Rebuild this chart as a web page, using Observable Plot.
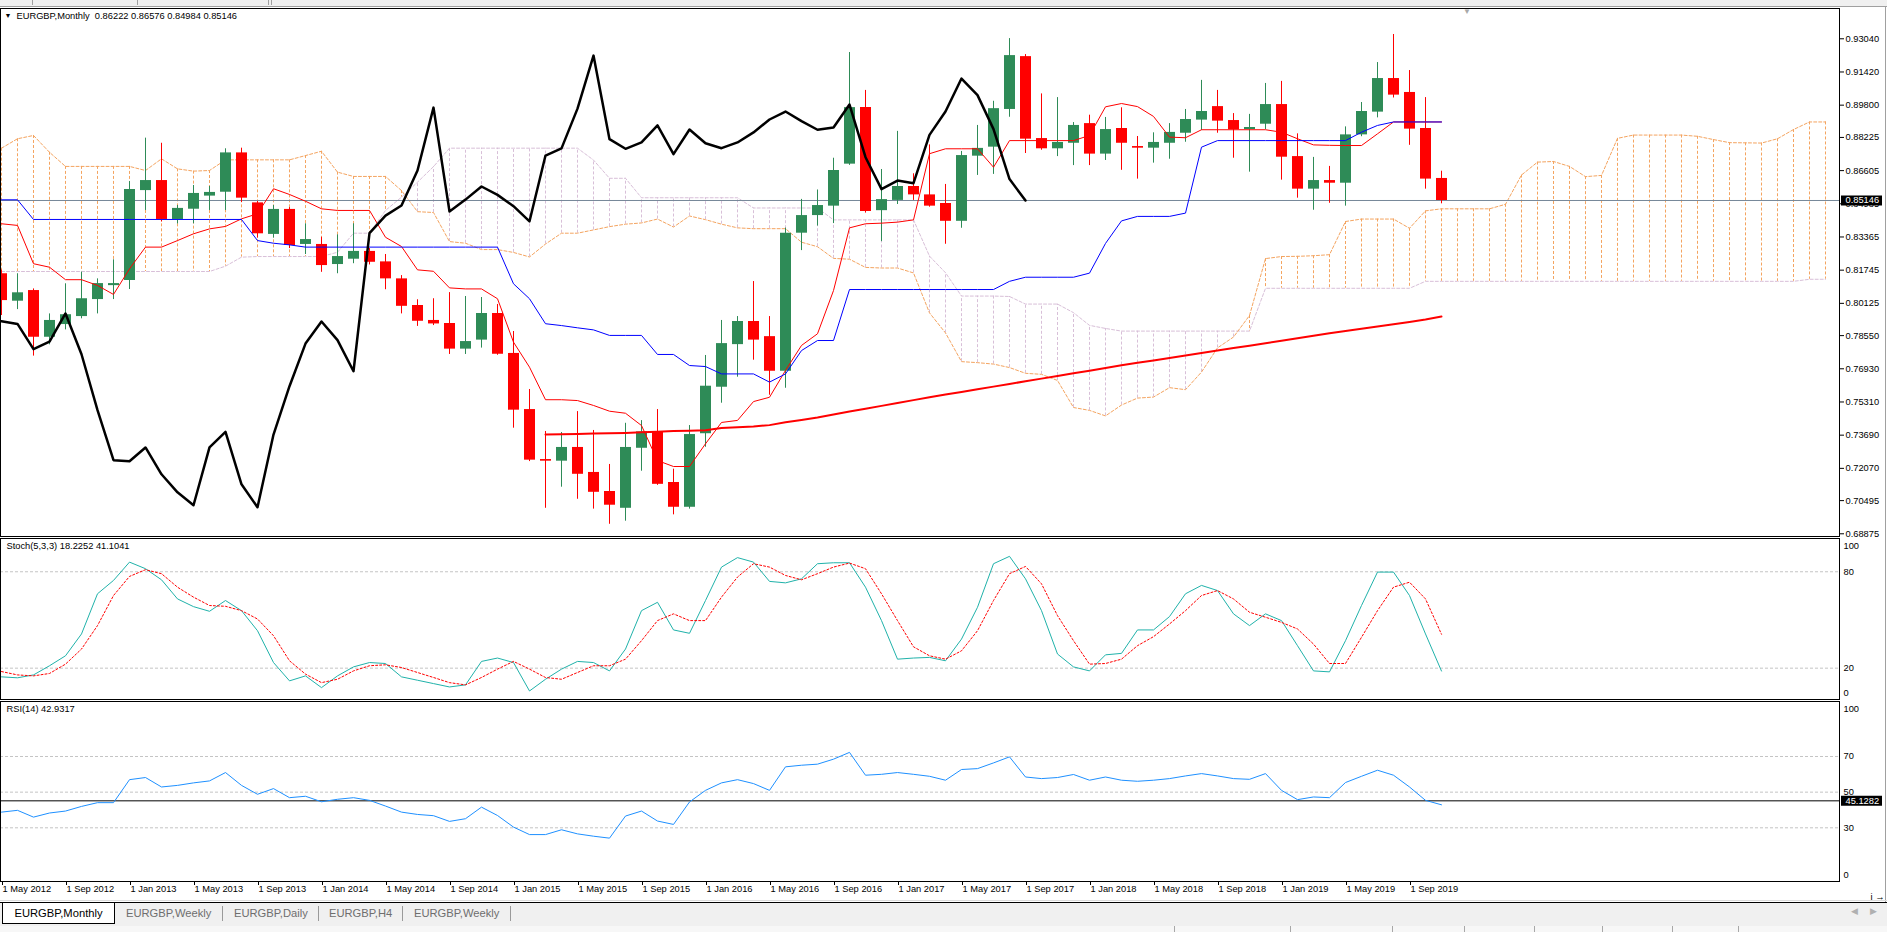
<!DOCTYPE html>
<html><head><meta charset="utf-8">
<script src="https://cdn.jsdelivr.net/npm/d3@7"></script>
<script src="https://cdn.jsdelivr.net/npm/@observablehq/plot@0.6"></script>
<style>
html,body{margin:0;padding:0;background:#fff}
#root{position:relative;width:1887px;height:932px;overflow:hidden;background:#fff;font-family:"Liberation Sans",Arial,sans-serif}
.abs{position:absolute}
.tab{position:absolute;top:903px;height:20px;line-height:20px;font-size:11.2px;color:#6e6e6e;white-space:nowrap}
.sep{position:absolute;top:906px;width:1px;height:15px;background:#9a9a9a}
.sb{position:absolute;top:926px;width:1px;height:6px;background:#a8a8a8}
</style></head>
<body><div id="root"></div>
<script>
// ---------- DATA (EURGBP monthly, May 2012 .. Nov 2019; index 0 = May 2012) ----------
const open = [
0.8157,0.8023,0.8075,0.7847,0.7909,0.7948,0.8031,0.8099,0.8124,0.8563,
0.8612,0.8422,0.8472,0.8536,0.8555,0.8747,0.8503,0.8349,0.8471,0.8300,
0.8300,0.8202,0.8228,0.8266,0.8215,0.8132,0.8002,0.7929,0.7914,0.7789,
0.7833,0.7963,0.7768,0.7494,0.7250,0.7242,0.7309,0.7187,0.7094,0.7012,
0.7305,0.7387,0.7138,0.7017,0.7376,0.7603,0.7811,0.7924,0.7850,0.7681,
0.8355,0.8441,0.8487,0.8692,0.8968,0.8465,0.8515,0.8583,0.8542,0.8500,
0.8413,0.8731,0.8775,0.8959,0.9217,0.8817,0.8767,0.8794,0.8890,0.8741,
0.8866,0.8778,0.8770,0.8794,0.8843,0.8907,0.8973,0.8905,0.8861,0.8887,
0.8983,0.8729,0.8570,0.8612,0.8599,0.8835,0.8946,0.9110,0.9042,0.8866,
0.86222];
const high = [
0.8175,0.8157,0.8083,0.7961,0.8108,0.8165,0.8132,0.8225,0.8607,0.8819,
0.8794,0.8490,0.8588,0.8583,0.8767,0.8770,0.8510,0.8490,0.8480,0.8401,
0.8335,0.8347,0.8401,0.8280,0.8251,0.8148,0.8030,0.8035,0.8065,0.8046,
0.8041,0.8007,0.7875,0.7592,0.7387,0.7382,0.7484,0.7392,0.7226,0.7427,
0.7440,0.7494,0.7203,0.7416,0.7758,0.7929,0.7948,0.8119,0.7948,0.8380,
0.8520,0.8566,0.8721,0.9237,0.9052,0.8666,0.8852,0.8645,0.8786,0.8593,
0.8754,0.8881,0.8999,0.9305,0.9227,0.9035,0.9017,0.8895,0.8931,0.8920,
0.8967,0.8827,0.8845,0.8890,0.8959,0.9101,0.9052,0.8939,0.8935,0.9086,
0.9096,0.8840,0.8725,0.8681,0.8874,0.8993,0.9188,0.9325,0.9149,0.9017,
0.86576];
const low = [
0.7953,0.7982,0.7755,0.7810,0.7883,0.7937,0.7961,0.8031,0.8080,0.8466,
0.8410,0.8400,0.8401,0.8466,0.8466,0.8505,0.8331,0.8331,0.8280,0.8251,
0.8164,0.8157,0.8206,0.8200,0.8079,0.7961,0.7900,0.7904,0.7763,0.7763,
0.7794,0.7759,0.7403,0.7240,0.7012,0.7115,0.7056,0.7008,0.6934,0.6949,
0.7193,0.7124,0.6980,0.7008,0.7310,0.7525,0.7652,0.7735,0.7564,0.7598,
0.8270,0.8390,0.8402,0.8686,0.8453,0.8314,0.8495,0.8515,0.8482,0.8301,
0.8379,0.8637,0.8642,0.8921,0.8744,0.8760,0.8729,0.8685,0.8685,0.8710,
0.8662,0.8619,0.8697,0.8716,0.8799,0.8856,0.8843,0.8721,0.8653,0.8860,
0.8614,0.8526,0.8467,0.8501,0.8487,0.8826,0.8918,0.9015,0.8784,0.8570,
0.84984];
const close = [
0.8026,0.8064,0.7847,0.7929,0.7957,0.8035,0.8109,0.8109,0.8568,0.8612,
0.8422,0.8476,0.8549,0.8554,0.8747,0.8526,0.8352,0.8471,0.8295,0.8324,
0.8197,0.8241,0.8266,0.8213,0.8132,0.7998,0.7925,0.7912,0.7789,0.7826,
0.7963,0.7764,0.7491,0.7247,0.7242,0.7309,0.7178,0.7090,0.7027,0.7309,
0.7385,0.7129,0.7017,0.7372,0.7608,0.7816,0.7924,0.7833,0.7681,0.8355,
0.8441,0.8490,0.8661,0.8968,0.8461,0.8519,0.8583,0.8542,0.8487,0.8413,
0.8734,0.8769,0.8963,0.9222,0.8814,0.8767,0.8798,0.8881,0.8741,0.8861,
0.8794,0.8770,0.8798,0.8847,0.8910,0.8949,0.8902,0.8860,0.8871,0.8983,
0.8726,0.8570,0.8612,0.8599,0.8835,0.8949,0.9110,0.9029,0.8863,0.8619,
0.85146];
// Ichimoku Tenkan-sen (red) and Kijun-sen (blue), one value per bar
const tenkan = [
0.8401,0.8393,0.8206,0.8189,0.8128,0.8128,0.8100,0.8056,0.8181,0.8287,
0.8287,0.8319,0.8352,0.8376,0.8388,0.8425,0.8450,0.8572,0.8544,0.8511,
0.8474,0.8466,0.8466,0.8466,0.8335,0.8290,0.8176,0.8169,0.8088,0.8083,
0.8083,0.8035,0.7823,0.7701,0.7542,0.7542,0.7538,0.7514,0.7486,0.7476,
0.7416,0.7245,0.7216,0.7216,0.7327,0.7431,0.7441,0.7533,0.7554,0.7685,
0.7807,0.7864,0.8075,0.8381,0.8401,0.8404,0.8409,0.8420,0.8743,0.8767,
0.8767,0.8767,0.8677,0.8807,0.8807,0.8807,0.8807,0.8807,0.8832,0.8972,
0.8988,0.8973,0.8925,0.8824,0.8821,0.8860,0.8860,0.8860,0.8860,0.8860,
0.8848,0.8816,0.8786,0.8784,0.8783,0.8783,0.8840,0.8898,0.8898,0.8898,
0.8898];
const kijun = [
0.8518,0.8518,0.8422,0.8422,0.8422,0.8422,0.8422,0.8422,0.8422,0.8422,
0.8422,0.8422,0.8422,0.8422,0.8422,0.8422,0.8319,0.8306,0.8298,0.8287,
0.8287,0.8287,0.8287,0.8287,0.8287,0.8287,0.8287,0.8287,0.8287,0.8287,
0.8287,0.8287,0.8108,0.8035,0.7913,0.7904,0.7893,0.7883,0.7856,0.7856,
0.7856,0.7763,0.7763,0.7709,0.7704,0.7668,0.7668,0.7668,0.7628,0.7668,
0.7782,0.7831,0.7831,0.8080,0.8080,0.8080,0.8080,0.8080,0.8080,0.8080,
0.8080,0.8080,0.8080,0.8120,0.8140,0.8140,0.8140,0.8140,0.8160,0.8305,
0.8415,0.8437,0.8437,0.8437,0.8453,0.8775,0.8807,0.8807,0.8807,0.8807,
0.8807,0.8807,0.8807,0.8807,0.8807,0.8848,0.8881,0.8898,0.8898,0.8898,
0.8898];
// Senkou Span A / B (cloud), bars 0..114 (drawn 24 bars past the last candle)
const spanA = [
0.8770,0.8816,0.8832,0.8750,0.8681,0.8681,0.8681,0.8681,0.8681,0.8661,
0.8718,0.8669,0.8658,0.8661,0.8713,0.8713,0.8713,0.8713,0.8713,0.8734,
0.8755,0.8653,0.8632,0.8632,0.8632,0.8563,0.8460,0.8456,0.8314,0.8306,
0.8275,0.8275,0.8261,0.8239,0.8302,0.8355,0.8355,0.8371,0.8387,0.8399,
0.8405,0.8424,0.8385,0.8439,0.8421,0.8399,0.8381,0.8377,0.8377,0.8377,
0.8311,0.8289,0.8232,0.8228,0.8188,0.8185,0.8185,0.8161,0.7966,0.7868,
0.7728,0.7723,0.7716,0.7699,0.7671,0.7666,0.7636,0.7504,0.7490,0.7463,
0.7516,0.7550,0.7555,0.7601,0.7591,0.7677,0.7795,0.7848,0.7953,0.8231,
0.8241,0.8242,0.8245,0.8250,0.8412,0.8424,0.8424,0.8424,0.8379,0.8464,
0.8474,0.8474,0.8474,0.8474,0.8496,0.8639,0.8702,0.8705,0.8681,0.8631,
0.8637,0.8818,0.8834,0.8834,0.8834,0.8834,0.8828,0.8812,0.8797,0.8796,
0.8795,0.8816,0.8861,0.8898,0.8898];
const spanB = [
0.8168,0.8168,0.8168,0.8168,0.8168,0.8168,0.8168,0.8168,0.8168,0.8168,
0.8168,0.8168,0.8168,0.8168,0.8194,0.8238,0.8241,0.8241,0.8241,0.8241,
0.8241,0.8262,0.8355,0.8355,0.8466,0.8531,0.8604,0.8680,0.8770,0.8770,
0.8770,0.8770,0.8770,0.8770,0.8770,0.8770,0.8770,0.8712,0.8623,0.8623,
0.8528,0.8528,0.8528,0.8528,0.8528,0.8528,0.8528,0.8478,0.8478,0.8478,
0.8478,0.8478,0.8420,0.8420,0.8420,0.8420,0.8420,0.8420,0.8243,0.8162,
0.8048,0.8048,0.8048,0.8046,0.8009,0.8009,0.8009,0.7967,0.7905,0.7890,
0.7877,0.7877,0.7877,0.7877,0.7877,0.7877,0.7877,0.7877,0.7877,0.8086,
0.8086,0.8086,0.8086,0.8086,0.8086,0.8086,0.8086,0.8086,0.8086,0.8120,
0.8120,0.8120,0.8120,0.8120,0.8120,0.8120,0.8120,0.8120,0.8120,0.8120,
0.8120,0.8120,0.8120,0.8120,0.8120,0.8120,0.8120,0.8120,0.8120,0.8120,
0.8120,0.8120,0.8120,0.8130,0.8130];
// Chikou span = close plotted 26 bars back
const chikouShift = 26;
// Long moving average (red), starting at bar 34
const maStart = 34;
const ma = [
0.7372,0.7374,0.7375,0.7377,0.7378,0.7380,0.7383,0.7386,0.7389,0.7391,
0.7393,0.7404,0.7408,0.7411,0.7418,0.7432,0.7443,0.7455,0.7470,0.7484,
0.7498,0.7512,0.7526,0.7540,0.7554,0.7567,0.7580,0.7593,0.7606,0.7619,
0.7632,0.7645,0.7658,0.7671,0.7684,0.7697,0.7710,0.7722,0.7734,0.7746,
0.7758,0.7770,0.7782,0.7794,0.7806,0.7818,0.7830,0.7842,0.7854,0.7866,
0.7878,0.7889,0.7900,0.7911,0.7922,0.7934,0.7948];
// Stochastic (5,3,3)
const stochK = [
14.6,14.0,15.8,21.5,27.7,41.3,66.3,74.6,86.0,81.9,
75.0,63.1,58.3,55.4,62.1,55.8,43.3,23.5,12.1,15.2,
7.9,15.2,20.8,23.5,22.9,14.6,12.5,10.4,8.3,9.6,
24.2,26.3,23.5,5.8,13.1,19.4,24.2,23.5,18.3,31.9,
55.8,61.0,43.8,41.7,62.1,82.9,88.8,86.0,74.0,73.1,
75.6,85.0,85.6,85.6,70.4,49.6,25.6,26.3,26.7,24.6,
38.1,57.9,85.0,89.6,75.6,55.8,28.8,20.8,18.3,28.3,
29.2,43.8,43.8,52.1,66.3,71.5,68.3,53.8,46.5,53.8,
49.6,34.0,18.3,17.7,37.1,59.0,79.8,79.8,65.2,41.3,
18.2];
const stochD = [
17.9,15.8,15.2,16.7,22.5,31.9,46.5,65.2,77.1,81.3,
78.8,70.4,64.2,59.0,58.5,55.8,50.6,40.2,24.6,16.3,
11.0,13.1,18.3,21.5,22.1,20.4,17.3,14.2,11.0,9.6,
14.2,19.4,24.2,19.4,14.2,13.1,17.3,21.5,21.5,25.6,
37.1,49.6,53.8,49.6,49.6,64.2,76.7,85.0,82.9,77.7,
75.0,78.8,82.9,85.4,81.9,66.3,49.6,33.3,27.7,25.6,
30.8,43.3,62.1,78.8,83.3,72.5,52.7,37.1,22.5,22.9,
25.6,34.0,39.6,47.5,55.8,65.2,68.3,63.1,54.8,51.7,
48.5,44.4,35.0,22.9,22.9,39.2,55.8,70.4,73.5,63.1,
41.1];
// RSI(14)
const rsi = [
38.8,39.8,36.0,38.3,39.4,42.0,44.1,44.1,57.0,58.2,
52.9,53.8,55.2,56.3,61.0,53.8,48.8,52.0,46.9,47.7,
44.6,46.0,46.9,45.4,42.2,38.8,37.5,36.8,33.6,35.1,
41.6,36.9,30.4,26.2,26.2,28.9,26.6,25.3,24.2,36.6,
39.4,33.8,31.9,44.5,51.0,55.2,57.0,54.8,51.0,64.2,
65.1,65.7,68.5,72.3,59.5,60.0,61.0,60.0,58.9,56.7,
62.7,63.2,66.4,69.8,58.5,57.6,58.2,59.9,56.7,58.5,
56.7,56.1,56.7,57.6,59.1,60.4,59.1,57.6,57.2,60.4,
51.0,45.8,47.3,46.9,55.4,58.9,62.3,59.5,52.9,45.4,
42.9];
const rsiLevel = 45.1282;
// Axis ticks / labels
const priceTicks = [0.93040,0.91420,0.89800,0.88225,0.86605,0.84985,0.83365,0.81745,0.80125,0.78550,0.76930,0.75310,0.73690,0.72070,0.70495,0.68875];
const xTickIdx = [0,4,8,12,16,20,24,28,32,36,40,44,48,52,56,60,64,68,72,76,80,84,88];
const xTickLabels = ["1 May 2012","1 Sep 2012","1 Jan 2013","1 May 2013","1 Sep 2013","1 Jan 2014","1 May 2014","1 Sep 2014","1 Jan 2015","1 May 2015","1 Sep 2015","1 Jan 2016","1 May 2016","1 Sep 2016","1 Jan 2017","1 May 2017","1 Sep 2017","1 Jan 2018","1 May 2018","1 Sep 2018","1 Jan 2019","1 May 2019","1 Sep 2019"];
const mainTitle = "EURGBP,Monthly\u00a0\u00a00.86222 0.86576 0.84984 0.85146";
const stochTitle = "Stoch(5,3,3) 18.2252 41.1041";
const rsiTitle = "RSI(14) 42.9317";
const tabs = ["EURGBP,Monthly","EURGBP,Weekly","EURGBP,Daily","EURGBP,H4","EURGBP,Weekly"];

// ---------- TABLES ----------
const bars = close.map((c, i) => ({i, o: open[i], h: high[i], l: low[i], c}));
const up = bars.filter(d => d.c >= d.o), dn = bars.filter(d => d.c < d.o);
const cloud = spanA.map((a, i) => ({i, a, b: spanB[i]}));
const chikou = close.slice(chikouShift).map((v, k) => ({i: k, v}));
const maData = ma.map((v, k) => ({i: maStart + k, v}));
const line1 = tenkan.map((v, i) => ({i, v}));
const line2 = kijun.map((v, i) => ({i, v}));
const stoch = stochK.map((k, i) => ({i, k, d: stochD[i]}));
const rsiData = rsi.map((v, i) => ({i, v}));
const lastClose = close[close.length - 1];

// ---------- LAYOUT ----------
const root = document.getElementById("root");
const W = 1887, MR = 48;
const XDOM = [-1/16, (1839 - 1)/16];
const FONT = "Liberation Sans, Arial, sans-serif";
const baseStyle = {background: "transparent", fontFamily: FONT, fontSize: "9.3px", overflow: "visible", color: "#000"};
const GREEN = "#2E8B57", RED = "#FF0000";
function place(el, top) { el.style.position = "absolute"; el.style.left = "0px"; el.style.top = top + "px"; root.appendChild(el); }

const mainPlot = Plot.plot({
  width: W, height: 538, marginTop: 8, marginBottom: 2, marginLeft: 0, marginRight: MR,
  x: {domain: XDOM, axis: null},
  y: {domain: [0.68743, 0.94519], axis: null},
  style: baseStyle,
  marks: [
    Plot.ruleX(cloud.filter(d => d.a >= d.b), {x: "i", y1: "a", y2: "b", stroke: "#F4A460", strokeDasharray: "3,2"}),
    Plot.ruleX(cloud.filter(d => d.a < d.b), {x: "i", y1: "a", y2: "b", stroke: "#D8BFD8", strokeDasharray: "3,2"}),
    Plot.line(cloud, {x: "i", y: "b", stroke: "#D8BFD8", strokeWidth: 1, strokeDasharray: "3,2"}),
    Plot.line(cloud, {x: "i", y: "a", stroke: "#F4A460", strokeWidth: 1, strokeDasharray: "3,2"}),
    Plot.ruleY([lastClose], {stroke: "#778899", strokeWidth: 1}),
    Plot.ruleX(up, {x: "i", y1: "l", y2: "h", stroke: GREEN, strokeWidth: 1}),
    Plot.ruleX(dn, {x: "i", y1: "l", y2: "h", stroke: RED, strokeWidth: 1}),
    Plot.ruleX(up, {x: "i", y1: "o", y2: "c", stroke: GREEN, strokeWidth: 11}),
    Plot.ruleX(dn, {x: "i", y1: "o", y2: "c", stroke: RED, strokeWidth: 11}),
    Plot.line(maData, {x: "i", y: "v", stroke: RED, strokeWidth: 2}),
    Plot.line(line1, {x: "i", y: "v", stroke: RED, strokeWidth: 1}),
    Plot.line(line2, {x: "i", y: "v", stroke: "#0000FF", strokeWidth: 1}),
    Plot.line(chikou, {x: "i", y: "v", stroke: "#000", strokeWidth: 2.5}),
    Plot.frame({stroke: "#000"}),
    Plot.axisY({anchor: "right", ticks: priceTicks, tickFormat: d => d.toFixed(5), tickSize: 4, tickPadding: 2}),
    Plot.ruleY([lastClose], {x1: XDOM[1] + 2/16, x2: XDOM[1] + 43/16, stroke: "#000", strokeWidth: 10, clip: false}),
    Plot.text([lastClose], {y: d => d, frameAnchor: "right", dx: 6, textAnchor: "start", fill: "#fff", text: d => d.toFixed(5)}),
    Plot.text(["\u25BC"], {frameAnchor: "top-left", dx: 4, dy: 5, textAnchor: "start", lineAnchor: "top", fontSize: 7}),
    Plot.text([mainTitle], {frameAnchor: "top-left", dx: 16, dy: 4, textAnchor: "start", lineAnchor: "top"})
  ]
});
place(mainPlot, 0);

const stochPlot = Plot.plot({
  width: W, height: 161, marginTop: 0, marginBottom: 0, marginLeft: 0, marginRight: MR,
  x: {domain: XDOM, axis: null},
  y: {domain: [0.5, 100.7], axis: null},
  style: baseStyle,
  marks: [
    Plot.ruleY([80, 20], {stroke: "#c4c4c4", strokeDasharray: "3,2"}),
    Plot.line(stoch, {x: "i", y: "k", stroke: "#20B2AA", strokeWidth: 1}),
    Plot.line(stoch, {x: "i", y: "d", stroke: RED, strokeWidth: 1, strokeDasharray: "2,2"}),
    Plot.frame({stroke: "#000"}),
    Plot.text([100], {y: d => d, frameAnchor: "right", dx: 4, dy: 6, textAnchor: "start", text: d => String(d)}),
    Plot.text([80, 20], {y: d => d, frameAnchor: "right", dx: 4, textAnchor: "start", text: d => String(d)}),
    Plot.text([0], {y: d => d, frameAnchor: "right", dx: 4, dy: -7, textAnchor: "start", text: d => String(d)}),
    Plot.text([stochTitle], {frameAnchor: "top-left", dx: 6, dy: 4, textAnchor: "start", lineAnchor: "top"})
  ]
});
place(stochPlot, 538);

const rsiPlot = Plot.plot({
  width: W, height: 201, marginTop: 0, marginBottom: 21, marginLeft: 0, marginRight: MR,
  x: {domain: XDOM, axis: null},
  y: {domain: [-0.11, 100.84], axis: null},
  style: baseStyle,
  marks: [
    Plot.ruleY([70, 50, 30], {stroke: "#c4c4c4", strokeDasharray: "3,2"}),
    Plot.ruleY([rsiLevel], {stroke: "#000", strokeWidth: 1}),
    Plot.line(rsiData, {x: "i", y: "v", stroke: "#1E90FF", strokeWidth: 1}),
    Plot.frame({stroke: "#000"}),
    Plot.text([100], {y: d => d, frameAnchor: "right", dx: 4, dy: 6, textAnchor: "start", text: d => String(d)}),
    Plot.text([70, 50, 30], {y: d => d, frameAnchor: "right", dx: 4, textAnchor: "start", text: d => String(d)}),
    Plot.text([0], {y: d => d, frameAnchor: "right", dx: 4, dy: -6, textAnchor: "start", text: d => String(d)}),
    Plot.ruleY([rsiLevel], {x1: XDOM[1] + 2/16, x2: XDOM[1] + 43/16, stroke: "#000", strokeWidth: 10, clip: false}),
    Plot.text([rsiLevel], {y: d => d, frameAnchor: "right", dx: 6, textAnchor: "start", fill: "#fff", text: d => d.toFixed(4)}),
    Plot.text([rsiTitle], {frameAnchor: "top-left", dx: 6, dy: 4, textAnchor: "start", lineAnchor: "top"}),
    Plot.axisX({anchor: "bottom", ticks: xTickIdx, tickFormat: d => xTickLabels[xTickIdx.indexOf(d)], tickSize: 4, tickPadding: 0, textAnchor: "start", dx: 1})
  ]
});
place(rsiPlot, 701);

// ---------- WINDOW CHROME ----------
function div(style, text) { const d = document.createElement("div"); d.setAttribute("style", style); if (text) d.textContent = text; root.appendChild(d); return d; }
div("position:absolute;left:0;top:0;width:1887px;height:6px;background:#f0f0f0;border-bottom:1px solid #a0a0a0");
[32, 137, 268, 271].forEach(x => div(`position:absolute;left:${x}px;top:0;width:1px;height:5px;background:#a0a0a0`));
div("position:absolute;left:1885px;top:6px;width:1px;height:896px;background:#a0a0a0");
div("position:absolute;left:1463px;top:8px;font-size:8px;line-height:8px;color:#a8a8a8", "\u25BC");
div("position:absolute;left:0;top:900px;width:1887px;height:1px;background:#dcdcdc");
div("position:absolute;left:0;top:902px;width:1887px;height:24px;background:#f0f0f0;border-top:1px solid #000");
div("position:absolute;left:0;top:926px;width:1887px;height:6px;background:#f7f7f7");
div("position:absolute;left:2px;top:903px;width:111px;height:20px;background:#fff;border:1px solid #000;border-top:none");
const tabX = [2, 126, 234, 329, 414];
tabs.forEach((t, k) => {
  const d = div(`left:${tabX[k]}px;` + (k === 0 ? "width:113px;text-align:center;color:#000;" : ""), t);
  d.className = "tab";
});
[222, 318, 402, 510].forEach(x => { const s = div(`left:${x}px`); s.className = "sep"; });
div("position:absolute;left:1851px;top:906px;font-size:9px;color:#b0b0b0", "\u25C0");
div("position:absolute;left:1870px;top:906px;font-size:9px;color:#b0b0b0", "\u25B6");
[1174, 1290, 1392, 1464, 1534, 1602, 1672, 1738].forEach(x => { const s = div(`left:${x}px`); s.className = "sb"; });
</script></body></html>
